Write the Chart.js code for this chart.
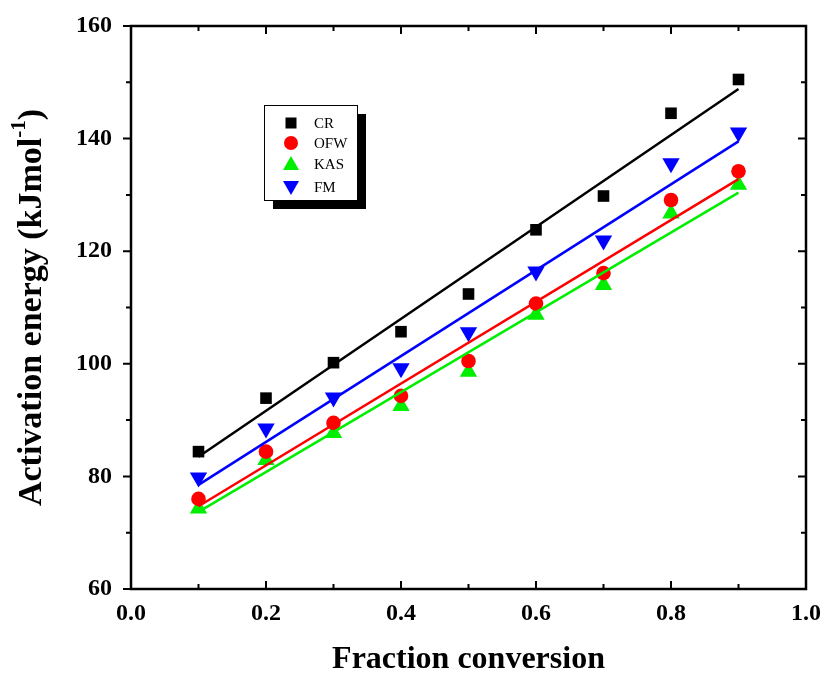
<!DOCTYPE html>
<html>
<head>
<meta charset="utf-8">
<script src="https://cdn.jsdelivr.net/npm/chart.js@4.4.0/dist/chart.umd.min.js"></script>
<style>
  html, body { margin: 0; padding: 0; background: #fff; }
  #wrap { width: 824px; height: 673px; }
</style>
</head>
<body>
<div id="wrap"><canvas id="chart"></canvas></div>
<script>
// DATA
const conversion = [0.1, 0.2, 0.3, 0.4, 0.5, 0.6, 0.7, 0.8, 0.9];
const crE = [84.4, 93.9, 100.2, 105.7, 112.4, 123.8, 129.8, 144.5, 150.5];
const ofwE = [76.0, 84.4, 89.5, 94.3, 100.5, 110.7, 116.1, 129.1, 134.2];
const kasE = [74.3, 82.9, 87.7, 92.5, 98.6, 108.7, 114.0, 126.7, 131.8];
const fmE = [79.8, 88.5, 94.0, 99.2, 105.6, 116.4, 121.9, 135.6, 141.1];

// fitted lines, ends
const fitX = [0.1, 0.9];
const crFit = [83.5, 148.8];
const ofwFit = [74.7, 132.8];
const kasFit = [73.7, 130.4];
const fmFit = [78.5, 139.5];

const seriesNames = ["CR", "OFW", "KAS", "FM"];
const seriesColors = ["#000000", "#ff0000", "#00ee00", "#0000ff"];

const xTicks = [0, 0.2, 0.4, 0.6, 0.8, 1.0];
const yTicks = [60, 80, 100, 120, 140, 160];

function pts(xs, ys) {
  return xs.map((x, i) => ({ x: x, y: ys[i] }));
}

const fitSets = [crFit, ofwFit, kasFit, fmFit].map((f, i) => ({
  type: "line",
  label: seriesNames[i] + " fit",
  data: pts(fitX, f),
  borderColor: seriesColors[i],
  borderWidth: 2.5,
  pointRadius: 0,
  fill: false,
  order: 0,
}));

const markerSets = [
  { label: "CR", data: pts(conversion, crE), pointStyle: "rect", pointRadius: 8.2, pointRotation: 0 },
  { label: "OFW", data: pts(conversion, ofwE), pointStyle: "circle", pointRadius: 7.3, pointRotation: 0 },
  { label: "KAS", data: pts(conversion, kasE), pointStyle: "triangle", pointRadius: 10, pointRotation: 0 },
  { label: "FM", data: pts(conversion, fmE), pointStyle: "triangle", pointRadius: 10, pointRotation: 180 },
].map((d, i) => Object.assign(d, {
  backgroundColor: seriesColors[i],
  borderColor: seriesColors[i],
  borderWidth: 0,
  order: 1,
}));

const SERIF = "'Liberation Serif', 'Times New Roman', serif";

// frame, ticks, titles, legend
const decorPlugin = {
  id: "decor",
  afterDraw(chart) {
    const ctx = chart.ctx;
    const a = chart.chartArea;
    const xs = chart.scales.x;
    const ys = chart.scales.y;
    ctx.save();
    ctx.strokeStyle = "#000";
    ctx.lineWidth = 2.5;
    ctx.strokeRect(a.left, a.top, a.right - a.left, a.bottom - a.top);

    ctx.lineWidth = 2;
    ctx.beginPath();
    for (let k = 0; k <= 10; k++) {
      const px = xs.getPixelForValue(k / 10);
      const len = k % 2 == 0 ? 8 : 5;
      ctx.moveTo(px, a.bottom);
      ctx.lineTo(px, a.bottom - len);
      ctx.moveTo(px, a.top);
      ctx.lineTo(px, a.top + len);
    }
    for (let v = 60; v <= 160; v += 10) {
      const py = ys.getPixelForValue(v);
      const len = v % 20 == 0 ? 8 : 5;
      ctx.moveTo(a.left, py);
      ctx.lineTo(a.left - len, py);
      ctx.moveTo(a.right, py);
      ctx.lineTo(a.right - len, py);
    }
    ctx.stroke();

    // axis titles
    ctx.fillStyle = "#000";
    ctx.font = "bold 32px " + SERIF;
    ctx.textAlign = "center";
    ctx.textBaseline = "middle";
    ctx.fillText("Fraction conversion", (a.left + a.right) / 2, 660);

    ctx.save();
    ctx.translate(32, (a.top + a.bottom) / 2);
    ctx.rotate(-Math.PI / 2);
    const main = "Activation energy (kJmol";
    const sup = "-1";
    const end = ")";
    const big = "bold 34px " + SERIF;
    const small = "bold 21px " + SERIF;
    ctx.font = big;
    const w1 = ctx.measureText(main).width;
    const w3 = ctx.measureText(end).width;
    ctx.font = small;
    const w2 = ctx.measureText(sup).width;
    let x0 = -(w1 + w2 + w3) / 2;
    ctx.textAlign = "left";
    ctx.font = big;
    ctx.fillText(main, x0, 0);
    ctx.font = small;
    ctx.fillText(sup, x0 + w1, -12);
    ctx.font = big;
    ctx.fillText(end, x0 + w1 + w2, 0);
    ctx.restore();

    // legend box with shadow
    const bx = 264, by = 105, bw = 93, bh = 95;
    ctx.fillStyle = "#000";
    ctx.fillRect(bx + 9, by + 9, bw, bh);
    ctx.fillStyle = "#fff";
    ctx.fillRect(bx, by, bw, bh);
    ctx.lineWidth = 1;
    ctx.strokeStyle = "#000";
    ctx.strokeRect(bx + 0.5, by + 0.5, bw, bh);

    const rows = [123, 143, 164, 187];
    ctx.font = "15px " + SERIF;
    ctx.textAlign = "left";
    ctx.textBaseline = "middle";
    for (let i = 0; i < 4; i++) {
      const cx = 291, cy = rows[i];
      ctx.fillStyle = seriesColors[i];
      ctx.beginPath();
      if (i == 0) {
        ctx.rect(cx - 5.5, cy - 5.5, 11, 11);
      } else if (i == 1) {
        ctx.arc(cx, cy, 7, 0, Math.PI * 2);
      } else if (i == 2) {
        ctx.moveTo(cx, cy - 8);
        ctx.lineTo(cx + 8, cy + 6);
        ctx.lineTo(cx - 8, cy + 6);
      } else {
        ctx.moveTo(cx, cy + 8);
        ctx.lineTo(cx + 8, cy - 6);
        ctx.lineTo(cx - 8, cy - 6);
      }
      ctx.closePath();
      ctx.fill();
      ctx.fillStyle = "#000";
      ctx.fillText(seriesNames[i], 314, cy + 1);
    }
    ctx.restore();
  },
};

new Chart(document.getElementById("chart"), {
  type: "scatter",
  data: { datasets: fitSets.concat(markerSets) },
  options: {
    responsive: true,
    maintainAspectRatio: false,
    animation: false,
    layout: { padding: { top: 26, right: 18, left: 0, bottom: 0 } },
    plugins: { legend: { display: false }, tooltip: { enabled: false } },
    scales: {
      x: {
        type: "linear",
        min: 0,
        max: 1,
        afterFit: (s) => {
          s.height = 84;
          s.paddingLeft = 0;
          s.paddingRight = 0;
        },
        afterBuildTicks: (s) => { s.ticks = xTicks.map((v) => ({ value: v })); },
        grid: { display: false, drawTicks: false },
        border: { display: false },
        ticks: {
          padding: 10,
          color: "#000",
          font: { family: SERIF, size: 24, weight: "bold" },
          callback: (v) => Number(v).toFixed(1),
        },
      },
      y: {
        min: 60,
        max: 160,
        afterFit: (s) => {
          s.width = 131;
          s.paddingTop = 0;
          s.paddingBottom = 0;
        },
        afterBuildTicks: (s) => { s.ticks = yTicks.map((v) => ({ value: v })); },
        grid: { display: false, drawTicks: false },
        border: { display: false },
        ticks: {
          padding: 19,
          color: "#000",
          font: { family: SERIF, size: 24, weight: "bold" },
        },
      },
    },
  },
  plugins: [decorPlugin],
});
</script>
</body>
</html>
